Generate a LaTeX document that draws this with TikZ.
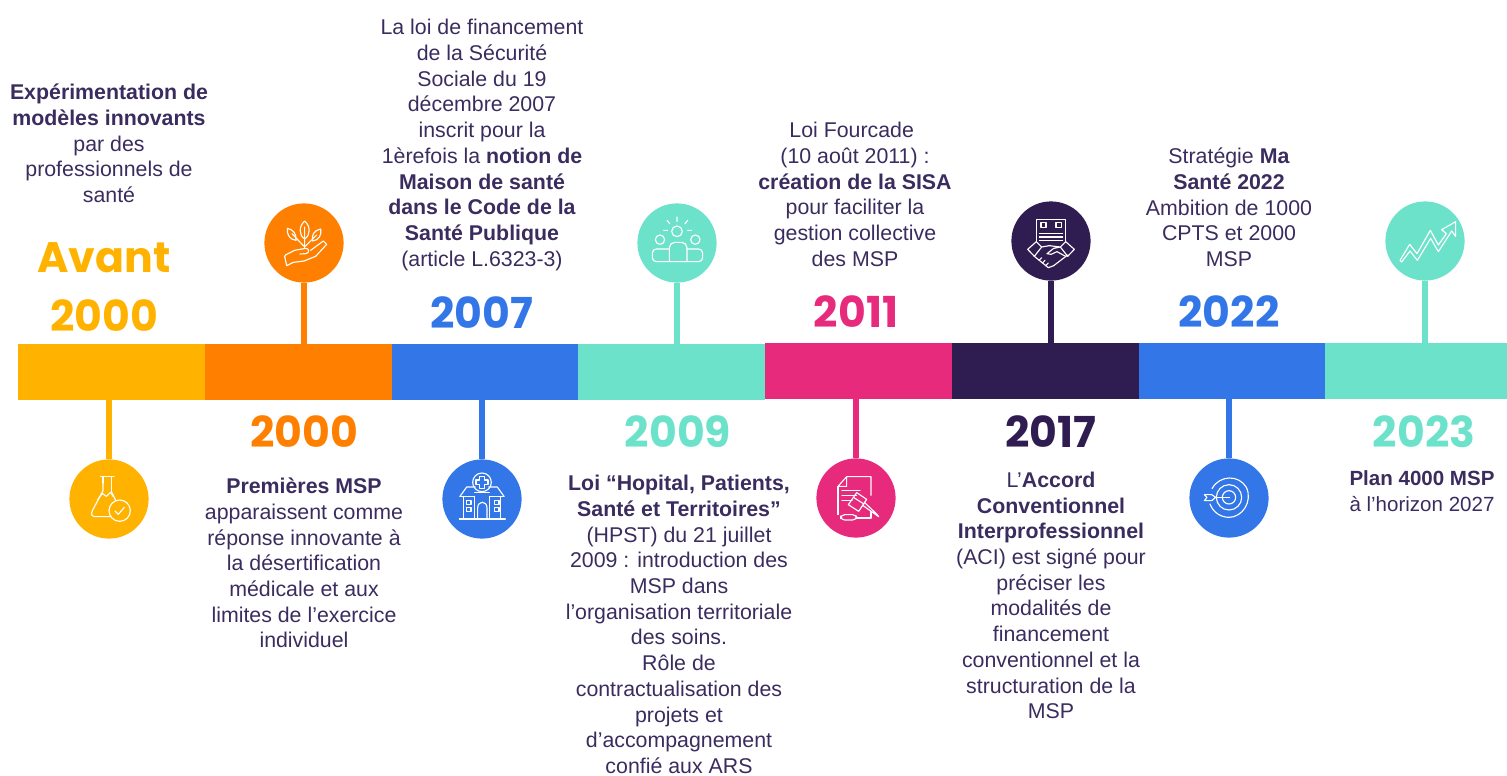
\documentclass[tikz,border=0pt]{standalone}
\usepackage{fontspec}
\setmainfont{Liberation Sans}
\newfontfamily\yearfont{Poppins}[BoldFont={Poppins Bold}]
\definecolor{cyel}{HTML}{FFB300}
\definecolor{cora}{HTML}{FF7F00}
\definecolor{cblu}{HTML}{3276E8}
\definecolor{cteal}{HTML}{6DE2CB}
\definecolor{cpink}{HTML}{E82A7C}
\definecolor{cdark}{HTML}{2F1D52}
\definecolor{ctext}{HTML}{3A2C5E}
\tikzset{
  segment/.style={rectangle,fill=#1,draw=none,inner sep=0pt,outer sep=0pt,anchor=north west,minimum height=42.2pt},
  disc/.style={circle,fill=#1,draw=none,inner sep=0pt,outer sep=0pt,minimum size=59.4pt},
  stem/.style={draw=#1,line width=4.1pt},
  body/.style={align=center,inner sep=0pt,text=ctext,font=\fontsize{16}{19.28}\selectfont},
  year/.style={inner sep=0pt,text=#1,font=\yearfont\bfseries\fontsize{32}{36}\selectfont},
  icon/.style={draw=white,line width=0.85pt,line join=round,line cap=round,x=0.25pt,y=-0.25pt}
}
\begin{document}
\begin{tikzpicture}[x=0.75pt,y=-0.75pt]
\useasboundingbox (0,0) rectangle (1507,775);
% bar
\node[segment=cyel,minimum width=140.25pt] (s1) at (18,344) {};
\node[segment=cora,minimum width=140.25pt] (s2) at (205,344) {};
\node[segment=cblu,minimum width=139.5pt] (s3) at (392,344) {};
\node[segment=cteal,minimum width=140.25pt] (s4) at (578,344) {};
\node[segment=cpink,minimum width=140.25pt] (s5) at (765,343) {};
\node[segment=cdark,minimum width=140.25pt] (s6) at (952,343) {};
\node[segment=cblu,minimum width=139.5pt] (s7) at (1139,343) {};
\node[segment=cteal,minimum width=136.5pt] (s8) at (1325,343) {};
% discs
\node[disc=cyel] (c1) at (109,499) {};
\node[disc=cora] (c2) at (304,243) {};
\node[disc=cblu] (c3) at (482,499) {};
\node[disc=cteal] (c4) at (677,243) {};
\node[disc=cpink] (c5) at (856,498) {};
\node[disc=cdark] (c6) at (1051,241) {};
\node[disc=cblu] (c7) at (1229,498) {};
\node[disc=cteal] (c8) at (1425,241) {};
% stems
\draw[stem=cyel] (c1.north) -- (c1.north |- s1.south);
\draw[stem=cora] (c2.south) -- (c2.south |- s2.north);
\draw[stem=cblu] (c3.north) -- (c3.north |- s3.south);
\draw[stem=cteal] (c4.south) -- (c4.south |- s4.north);
\draw[stem=cpink] (c5.north) -- (c5.north |- s5.south);
\draw[stem=cdark] (c6.south) -- (c6.south |- s6.north);
\draw[stem=cblu] (c7.north) -- (c7.north |- s7.south);
\draw[stem=cteal] (c8.south) -- (c8.south |- s8.north);
% years
\node[year=cyel] (y0) at (104,258) {Avant};
\node[year=cyel] (y1) at (104,316) {2000};
\node[year=cora] (y2) at (304,432) {2000};
\node[year=cblu] (y3) at (482,313) {2007};
\node[year=cteal] (y4) at (678,432) {2009};
\node[year=cpink] (y5) at (856,312) {2011};
\node[year=cdark] (y6) at (1051,432) {2017};
\node[year=cblu] (y7) at (1229,312) {2022};
\node[year=cteal] (y8) at (1424,432) {2023};
% texts
\node[body] (t1) at (109,143.5) {\textbf{Expérimentation de}\\\textbf{modèles innovants}\\par des\\professionnels de\\santé};
\node[body] (t2) at (304,563) {\textbf{Premières MSP}\\apparaissent comme\\réponse innovante à\\la désertification\\médicale et aux\\limites de l’exercice\\individuel};
\node[body] (t3) at (482,145) {La loi de financement\\de la Sécurité\\Sociale du 19\\décembre 2007\\inscrit pour la\\1èrefois la \textbf{notion de}\\\textbf{Maison de santé}\\\textbf{dans le Code de la}\\\textbf{Santé Publique}\\(article L.6323-3)};
\node[body] (t4) at (679,624.5) {\textbf{Loi “Hopital, Patients,}\\\textbf{Santé et Territoires”}\\(HPST) du 21 juillet\\2009 : introduction des\\MSP dans\\l’organisation territoriale\\des soins.\\Rôle de\\contractualisation des\\projets et\\d’accompagnement\\confié aux ARS};
\node[body] (t5) at (855,194.5) {Loi Fourcade\hspace*{5pt}\\(10 août 2011) :\hspace*{5pt}\\\textbf{création de la SISA}\\pour faciliter la\\gestion collective\\des MSP};
\node[body] (t6) at (1051,595.5) {L’\textbf{Accord}\\\textbf{Conventionnel}\\\textbf{Interprofessionnel}\\(ACI) est signé pour\\préciser les\\modalités de\\financement\\conventionnel et la\\structuration de la\\MSP};
\node[body] (t7) at (1229,207.5) {Stratégie \textbf{Ma}\\\textbf{Santé 2022}\\Ambition de 1000\\CPTS et 2000\\MSP};
\node[body,font=\fontsize{15.4}{19.28}\selectfont] (t8) at (1422,491) {\textbf{Plan 4000 MSP}\\à l’horizon 2027};
% icon: flask
\begin{scope}[shift={(69,459)},icon]
\draw (95,52) -- (135,52) (102,52) -- (102,72) (128,52) -- (128,100);
\draw (102,72) -- (102,95) -- (70,155) .. controls (64,168) and (70,173) .. (80,173) -- (125,173);
\draw (128,100) -- (140,124);
\draw (86,122) -- (100,103) -- (112,112) -- (125,100) -- (132,112);
\draw (152,155) circle (32);
\draw (138,156) -- (148,166) -- (166,145);
\end{scope}
% icon: plant in hand
\begin{scope}[shift={(264,203)},icon]
\draw (122,54) .. controls (104,70) and (104,96) .. (122,108) .. controls (140,96) and (140,70) .. (122,54);
\draw (70,76) .. controls (68,96) and (78,110) .. (96,112) .. controls (98,92) and (88,80) .. (70,76);
\draw (170,78) .. controls (150,82) and (142,96) .. (146,114) .. controls (164,112) and (174,96) .. (170,78);
\draw (122,72) -- (122,134) (84,92) -- (120,130) (158,96) -- (124,130);
\draw (66,155) -- (92,142) -- (125,136) .. controls (136,136) and (138,150) .. (125,152) -- (108,153);
\draw (140,142) -- (178,114) -- (188,124) -- (155,160) -- (120,174) -- (88,178) -- (68,188) -- (62,160) -- (66,155);
\end{scope}
% icon: hospital
\begin{scope}[shift={(442,459)},icon]
\draw (120,70) circle (28);
\draw (113,52) -- (127,52) -- (127,63) -- (138,63) -- (138,77) -- (127,77) -- (127,88) -- (113,88) -- (113,77) -- (102,77) -- (102,63) -- (113,63) -- cycle;
\draw (52,180) -- (190,180);
\draw (64,180) -- (64,112) (176,180) -- (176,112);
\draw (54,112) -- (74,84) -- (100,84) (186,112) -- (166,84) -- (140,84);
\draw (54,112) -- (98,112) (186,112) -- (142,112) (98,112) -- (98,180) (142,112) -- (142,180);
\draw (98,100) -- (142,100);
\draw (107,180) -- (107,147) .. controls (107,124) and (135,124) .. (135,147) -- (135,180);
\draw (74,124) rectangle (87,136) (74,146) rectangle (87,158) (158,124) rectangle (171,136) (158,146) rectangle (171,158);
\end{scope}
% icon: people
\begin{scope}[shift={(637,203)},icon]
\draw (120,85) circle (16) (69,110) circle (14) (175,110) circle (14);
\draw (120,42) -- (120,56) (90,52) -- (98,62) (152,52) -- (144,62) (80,82) -- (92,82) (152,82) -- (164,82);
\draw[rounded corners=4pt] (97,176) -- (97,118) -- (150,118) -- (150,176);
\draw[rounded corners=3pt] (97,138) -- (46,138) -- (46,176) -- (197,176) -- (197,138) -- (150,138);
\end{scope}
% icon: document and gavel
\begin{scope}[shift={(816,458)},icon]
\draw (92,56) -- (165,56) -- (165,112) (92,56) -- (66,85) -- (92,85) -- cycle;
\draw (66,85) -- (66,170) (165,160) -- (165,180) -- (122,180);
\draw[rounded corners=3pt] (74,170) -- (122,170) -- (122,186) -- (74,186) -- cycle;
\draw (78,98) -- (132,98) (78,113) -- (122,113) (78,128) -- (108,128);
\draw (122,104) -- (152,124) -- (128,160) -- (97,140) -- cycle;
\draw (112,118) -- (144,138);
\draw (140,142) -- (188,176) -- (182,168) -- (146,134);
\end{scope}
% icon: handshake and document
\begin{scope}[shift={(1011,201)},icon]
\draw (76,122) -- (76,56) -- (164,56) -- (164,122);
\draw (90,64) rectangle (105,80) (135,64) rectangle (152,80);
\draw (85,98) -- (155,98) (85,108) -- (155,108) (85,118) -- (155,118);
\draw (50,145) -- (76,122) -- (92,138) -- (70,166) -- cycle;
\draw (190,145) -- (164,122) -- (148,138) -- (170,166) -- cycle;
\draw (70,166) -- (112,200) -- (128,194) -- (170,162);
\draw (92,138) -- (115,134) -- (148,138) -- (128,142) -- (108,158) -- (120,160) -- (138,152) -- (164,166);
\draw (84,178) -- (92,170) (94,186) -- (102,178) (104,194) -- (112,186);
\end{scope}
% icon: target
\begin{scope}[shift={(1189,458)},icon]
\draw (120,118) circle (20) (120,118) circle (38);
\draw (69,92) .. controls (92,50) and (150,50) .. (172,88) .. controls (192,130) and (160,178) .. (120,178) .. controls (94,178) and (72,162) .. (63,138);
\draw (78,118) -- (122,118);
\draw (46,110) -- (68,110) -- (80,118) -- (68,128) -- (46,128) -- (54,118) -- cycle;
\end{scope}
% icon: rising chart
\begin{scope}[shift={(1385,201)},icon]
\draw (45,178) -- (74,130) -- (96,158) -- (136,88) -- (160,132) -- (184,98) -- (170,86) -- (212,62) -- (212,106) -- (200,90) -- (160,152) -- (137,112) -- (97,178) -- (75,150) -- (50,183) -- cycle;
\end{scope}
\end{tikzpicture}
\end{document}
